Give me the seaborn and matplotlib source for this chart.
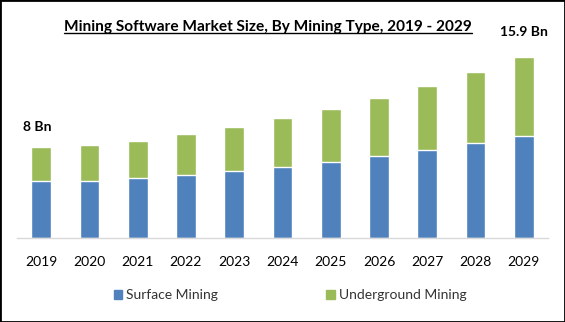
import matplotlib
matplotlib.use("Agg")
import matplotlib.pyplot as plt
import seaborn as sns
import pandas as pd
from matplotlib.patches import Patch, Rectangle
from matplotlib.lines import Line2D

years = ["2019", "2020", "2021", "2022", "2023", "2024", "2025", "2026", "2027", "2028", "2029"]
surface = [5.01, 5.01, 5.27, 5.54, 5.89, 6.24, 6.68, 7.21, 7.74, 8.35, 8.97]
underground = [2.99, 3.16, 3.26, 3.60, 3.87, 4.31, 4.66, 5.10, 5.62, 6.24, 6.93]
series_names = ["Surface Mining", "Underground Mining"]
labels = {0: "8 Bn", 10: "15.9 Bn"}
title = "Mining Software Market Size, By Mining Type, 2019 - 2029"

blue = "#4F81BD"
green = "#9BBB59"

sns.set_theme(style="white")
plt.rcParams["font.family"] = ["Lato", "DejaVu Sans"]

df = pd.DataFrame({"year": years, "surface": surface, "underground": underground})
df["total"] = df["surface"] + df["underground"]

fig = plt.figure(figsize=(5.65, 3.22), dpi=100)
W, H = 565, 322
ax = fig.add_axes([17 / W, 84 / H, (548 - 17) / W, 193.4 / H])

sns.barplot(data=df, x="year", y="total", color=green, saturation=1, width=0.41, ax=ax)
sns.barplot(data=df, x="year", y="surface", color=blue, saturation=1, width=0.41, ax=ax)

ax.set_xlim(-0.5, len(years) - 0.5)
ax.set_ylim(0, 17)
ax.set_xlabel("")
ax.set_ylabel("")
ax.set_yticks([])
for s in ["left", "right", "top"]:
    ax.spines[s].set_visible(False)
ax.spines["bottom"].set_color("#D9D9D9")
ax.spines["bottom"].set_linewidth(1)
ax.tick_params(axis="x", length=0, pad=13, labelsize=10, labelcolor="black")

for i, txt in labels.items():
    off = 10 if i == 0 else 14
    ax.annotate(txt, (i, df["total"][i]), xytext=(-3 if i == 0 else 0, off),
                textcoords="offset points", ha="center", va="bottom",
                fontsize=10, fontweight="bold", color="black")

t = fig.text(268 / W, 1 - 27 / H, title, ha="center", va="center",
             fontsize=11.1, fontweight="bold", color="black")

handles = [Patch(color=blue, label=series_names[0]), Patch(color=green, label=series_names[1])]
fig.legend(handles=handles, loc="center", bbox_to_anchor=(290 / W, 1 - 295 / H), ncol=2,
           frameon=False, fontsize=10, handlelength=0.6, handleheight=0.6,
           handletextpad=0.3, columnspacing=7.8, labelcolor="#333333")

fig.patches.append(Rectangle((0, 0), 1, 1, transform=fig.transFigure, fill=False,
                             edgecolor="black", linewidth=2))

fig.canvas.draw()
bb = t.get_window_extent(fig.canvas.get_renderer())
uy = bb.y0 + 1
fig.lines.append(Line2D([bb.x0 / W, bb.x1 / W], [uy / H, uy / H], transform=fig.transFigure,
                        color="black", linewidth=1))

fig.savefig("out.png", dpi=100)
